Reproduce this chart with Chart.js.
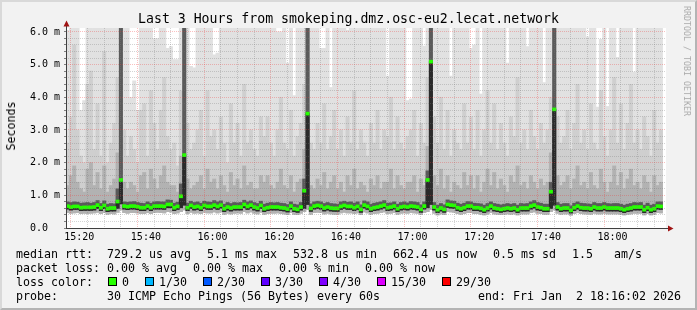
<!DOCTYPE html>
<html><head><meta charset="utf-8">
<script src="https://cdn.jsdelivr.net/npm/chart.js@4.4.1/dist/chart.umd.min.js"></script>
<style>
html,body{margin:0;padding:0;}
body{width:697px;height:310px;overflow:hidden;background:#f2f2f2;position:relative;font-family:"DejaVu Sans Mono",monospace;}
#frame{position:absolute;left:0;top:0;width:697px;height:310px;box-sizing:border-box;border-top:2px solid #d9d9d9;border-left:2px solid #d9d9d9;border-right:2px solid #b4b4b4;border-bottom:2px solid #b4b4b4;}
canvas{position:absolute;left:0;top:0;}
.t{position:absolute;white-space:pre;font-size:11.63px;line-height:14px;color:#000;}
.box{position:absolute;width:9px;height:9px;box-sizing:border-box;border:1px solid #000;}
</style></head>
<body>
<div id="frame"></div>
<canvas id="c" width="697" height="310"></canvas>
<div class="t" style="left:0;top:11px;width:697px;text-align:center;font-size:13.2px;line-height:16px;">Last 3 Hours from smokeping.dmz.osc-eu2.lecat.network</div>
<div class="t" style="left:11px;top:126px;transform:translate(-50%,-50%) rotate(-90deg);">Seconds</div>
<div class="t" style="left:687px;top:61px;transform:translate(-50%,-50%) rotate(90deg);font-size:8.3px;line-height:10px;color:#ababab;">RRDTOOL / TOBI OETIKER</div>
<div id="legend"></div>
<script>
// ---- data (one value per minute, starting 15:16) ----
const startMinute = 16; // minutes after 15:00
const median = [
0.67,0.64,0.66,0.66,0.62,0.63,0.63,0.63,0.64,0.70,
0.62,0.69,0.59,0.61,0.61,0.81,1.47,0.67,0.65,0.67,
0.67,0.65,0.62,0.62,0.67,0.62,0.67,0.67,0.67,0.66,
0.72,0.72,0.62,0.66,0.97,2.23,0.62,0.69,0.64,0.66,
0.62,0.69,0.66,0.66,0.70,0.66,0.70,0.59,0.64,0.61,
0.64,0.64,0.64,0.72,0.66,0.70,0.64,0.61,0.69,0.59,
0.62,0.64,0.64,0.64,0.62,0.61,0.58,0.67,0.59,0.57,
0.64,1.14,3.50,0.60,0.67,0.69,0.67,0.61,0.64,0.61,
0.60,0.60,0.66,0.69,0.66,0.66,0.62,0.66,0.57,0.70,
0.66,0.59,0.62,0.64,0.67,0.70,0.62,0.64,0.67,0.59,
0.64,0.66,0.64,0.67,0.66,0.64,0.57,0.67,1.47,5.09,
0.64,0.56,0.61,0.57,0.72,0.70,0.69,0.62,0.59,0.62,
0.67,0.67,0.62,0.62,0.60,0.56,0.61,0.67,0.61,0.59,
0.57,0.59,0.61,0.59,0.61,0.56,0.61,0.61,0.61,0.67,
0.70,0.64,0.62,0.59,0.59,1.11,3.63,0.64,0.59,0.61,
0.61,0.54,0.62,0.67,0.62,0.61,0.61,0.59,0.64,0.61,
0.61,0.64,0.61,0.61,0.61,0.61,0.59,0.56,0.59,0.61,
0.64,0.64,0.64,0.56,0.62,0.56,0.59,0.67,0.66];
const smokeMax = [
6.05,6.3,6.3,6.3,3.6,3.9,6.3,6.3,6.3,6.3,
6.3,6.3,6.3,6.3,6.3,6.3,6.3,6.3,6.3,4.0,
4.5,3.6,6.3,6.3,6.3,6.3,5.8,5.8,6.3,6.3,
5.5,5.55,5.15,5.15,6.3,6.3,6.3,4.95,4.9,6.3,
6.3,6.3,6.3,6.3,5.3,5.35,6.3,6.3,6.3,6.3,
6.3,6.3,6.3,6.3,6.3,6.3,6.3,6.3,6.3,6.3,
6.3,6.3,6.3,6.0,6.0,6.3,5.05,6.3,4.05,6.3,
6.3,6.3,6.3,6.3,6.3,6.3,5.5,5.5,6.3,4.3,
6.3,6.3,6.3,6.3,6.05,6.3,6.3,6.3,6.3,6.3,
6.3,6.3,6.3,6.3,6.3,6.3,4.65,6.3,6.3,6.3,
6.3,6.3,3.9,3.95,6.3,6.3,6.3,5.57,6.3,6.3,
6.3,6.3,6.3,6.3,6.3,4.65,6.3,6.3,6.3,6.3,
6.3,5.5,5.6,6.3,4.1,6.3,6.3,6.3,6.3,6.3,
6.3,6.3,5.05,6.3,6.3,6.3,6.3,6.3,5.55,6.3,
6.3,6.3,6.3,4.45,6.3,6.3,6.3,6.3,6.3,6.3,
6.3,6.3,6.3,6.3,6.3,6.3,5.85,6.3,6.3,3.7,
5.77,6.3,3.72,6.3,6.3,5.22,6.3,6.3,6.3,6.3,
4.77,6.3,6.3,6.3,6.3,6.3,6.3,6.3,6.3];
const smokeHi = [
2.6,3.4,5.6,3.0,2.2,2.0,4.4,4.8,2.4,3.8,
2.2,5.4,2.0,2.6,3.2,4.6,6.3,3.0,2.2,2.8,
2.4,2.0,3.6,3.8,2.2,4.2,3.2,2.4,3.6,4.6,
2.8,2.4,2.6,1.9,4.2,6.3,3.2,2.4,2.6,3.0,
3.6,2.2,4.2,2.8,3.0,2.4,3.4,2.6,2.0,3.8,
2.6,3.2,2.2,4.4,2.6,3.0,2.4,2.2,3.4,2.8,
3.4,2.6,2.2,3.0,4.0,2.6,2.4,3.6,2.2,2.8,
3.2,4.4,6.3,2.6,2.4,3.2,2.6,3.8,2.4,2.8,
3.6,2.4,3.0,2.2,3.4,2.6,4.2,2.4,3.0,2.6,
2.2,3.2,2.6,3.6,2.4,3.0,2.8,4.0,2.4,3.4,
2.6,2.4,2.8,3.0,3.6,2.2,3.2,2.6,4.6,6.3,
3.4,2.6,4.0,2.4,3.6,2.2,3.0,2.6,2.4,3.8,
2.6,3.4,2.4,3.6,2.2,3.0,4.2,2.6,3.8,2.4,
3.2,2.6,2.2,3.4,2.8,4.6,2.6,3.0,2.4,3.6,
2.8,2.4,3.2,2.6,3.0,4.0,6.3,3.4,2.6,2.8,
3.6,2.4,3.2,4.4,2.6,3.0,2.4,3.8,2.6,2.4,
4.2,2.8,2.2,3.0,4.6,2.6,3.8,2.4,3.2,4.4,
2.6,3.0,2.4,3.4,2.8,2.2,3.6,2.6,3.0];
const smokeMid = [
1.3,1.6,1.9,1.4,1.2,1.1,1.8,2.0,1.3,1.7,
1.2,1.9,1.1,1.3,1.5,2.3,6.3,1.4,1.2,1.4,
1.3,1.1,1.6,1.7,1.2,1.8,1.5,1.2,1.6,1.9,
1.4,1.3,1.3,1.1,2.2,6.3,1.5,1.2,1.3,1.4,
1.6,1.2,1.8,1.4,1.5,1.2,1.6,1.3,1.1,1.7,
1.3,1.5,1.2,1.9,1.3,1.4,1.2,1.2,1.6,1.4,
1.6,1.3,1.2,1.4,1.8,1.3,1.2,1.6,1.1,1.4,
1.5,2.4,6.3,1.3,1.2,1.5,1.3,1.7,1.2,1.4,
1.6,1.2,1.4,1.1,1.6,1.3,1.8,1.2,1.4,1.3,
1.1,1.5,1.3,1.6,1.2,1.4,1.4,1.8,1.2,1.6,
1.3,1.2,1.4,1.4,1.6,1.1,1.5,1.3,2.5,6.3,
1.6,1.3,1.8,1.2,1.6,1.1,1.4,1.3,1.2,1.7,
1.3,1.6,1.2,1.6,1.1,1.4,1.8,1.3,1.7,1.2,
1.5,1.3,1.1,1.6,1.4,1.9,1.3,1.4,1.2,1.6,
1.4,1.2,1.5,1.3,1.4,2.3,6.3,1.6,1.3,1.4,
1.6,1.2,1.5,1.9,1.3,1.4,1.2,1.7,1.3,1.2,
1.8,1.4,1.1,1.4,1.9,1.3,1.7,1.2,1.5,1.8,
1.3,1.4,1.2,1.6,1.4,1.1,1.6,1.3,1.4];
const smokeDark = [
0.80,0.78,0.80,0.79,0.76,0.77,0.78,0.76,0.78,0.84,
0.75,0.83,0.73,0.75,0.74,1.20,6.30,0.80,0.79,0.80,
0.81,0.78,0.76,0.75,0.80,0.76,0.80,0.81,0.80,0.80,
0.86,0.85,0.76,0.79,1.35,6.30,0.76,0.82,0.78,0.80,
0.76,0.82,0.80,0.79,0.84,0.80,0.83,0.73,0.78,0.75,
0.78,0.77,0.78,0.85,0.80,0.83,0.78,0.75,0.82,0.73,
0.76,0.78,0.77,0.78,0.76,0.75,0.72,0.80,0.73,0.71,
0.78,1.50,6.30,0.74,0.80,0.82,0.80,0.75,0.78,0.75,
0.74,0.73,0.80,0.82,0.79,0.80,0.76,0.80,0.71,0.83,
0.80,0.73,0.76,0.78,0.80,0.84,0.76,0.77,0.80,0.73,
0.78,0.80,0.77,0.81,0.80,0.78,0.71,0.80,1.75,6.30,
0.78,0.70,0.75,0.71,0.86,0.83,0.82,0.76,0.73,0.76,
0.81,0.80,0.76,0.75,0.74,0.70,0.75,0.80,0.75,0.73,
0.71,0.73,0.75,0.73,0.75,0.70,0.75,0.74,0.75,0.80,
0.84,0.78,0.76,0.73,0.73,1.40,6.30,0.78,0.73,0.75,
0.75,0.68,0.76,0.80,0.76,0.75,0.74,0.73,0.78,0.75,
0.75,0.78,0.75,0.74,0.75,0.75,0.73,0.70,0.73,0.75,
0.78,0.77,0.78,0.70,0.76,0.70,0.73,0.80,0.80];
const smokeLow = [
0.58,0.55,0.57,0.57,0.53,0.54,0.54,0.54,0.55,0.60,
0.53,0.59,0.50,0.52,0.52,0.60,0.74,0.58,0.56,0.58,
0.58,0.56,0.53,0.53,0.58,0.53,0.58,0.58,0.58,0.57,
0.62,0.62,0.53,0.57,0.62,0.70,0.53,0.60,0.55,0.57,
0.53,0.60,0.57,0.57,0.61,0.57,0.61,0.50,0.55,0.52,
0.55,0.55,0.55,0.62,0.57,0.61,0.55,0.52,0.60,0.50,
0.53,0.55,0.55,0.55,0.53,0.52,0.49,0.58,0.50,0.48,
0.55,0.60,0.72,0.51,0.58,0.60,0.58,0.52,0.55,0.52,
0.51,0.51,0.57,0.60,0.57,0.57,0.53,0.57,0.48,0.61,
0.57,0.50,0.53,0.55,0.58,0.61,0.53,0.55,0.58,0.50,
0.55,0.57,0.55,0.58,0.57,0.55,0.48,0.58,0.62,0.72,
0.55,0.47,0.52,0.48,0.63,0.61,0.60,0.53,0.50,0.53,
0.58,0.58,0.53,0.53,0.51,0.47,0.52,0.58,0.52,0.50,
0.48,0.50,0.52,0.50,0.52,0.47,0.52,0.52,0.52,0.58,
0.61,0.55,0.53,0.50,0.50,0.60,0.70,0.55,0.50,0.52,
0.52,0.46,0.53,0.58,0.53,0.52,0.52,0.50,0.55,0.52,
0.52,0.55,0.52,0.52,0.52,0.52,0.50,0.47,0.50,0.52,
0.55,0.55,0.55,0.47,0.53,0.47,0.50,0.58,0.57];
const smokeMin = [
0.47,0.45,0.46,0.47,0.44,0.45,0.44,0.45,0.46,0.48,
0.44,0.47,0.42,0.44,0.43,0.48,0.55,0.47,0.45,0.47,
0.47,0.46,0.44,0.44,0.47,0.44,0.47,0.48,0.47,0.46,
0.50,0.49,0.44,0.46,0.50,0.55,0.44,0.48,0.45,0.46,
0.44,0.48,0.46,0.46,0.49,0.46,0.49,0.42,0.45,0.43,
0.45,0.46,0.45,0.50,0.46,0.49,0.45,0.43,0.48,0.42,
0.44,0.45,0.45,0.46,0.44,0.43,0.41,0.47,0.42,0.41,
0.45,0.50,0.56,0.42,0.47,0.48,0.47,0.43,0.45,0.43,
0.42,0.42,0.46,0.48,0.46,0.46,0.44,0.46,0.41,0.49,
0.46,0.42,0.44,0.45,0.47,0.49,0.44,0.45,0.47,0.42,
0.45,0.46,0.45,0.47,0.46,0.45,0.41,0.47,0.50,0.56,
0.45,0.40,0.43,0.41,0.50,0.49,0.48,0.44,0.42,0.44,
0.47,0.47,0.44,0.44,0.42,0.40,0.43,0.47,0.43,0.42,
0.41,0.42,0.43,0.42,0.43,0.40,0.43,0.43,0.43,0.47,
0.49,0.45,0.44,0.42,0.42,0.50,0.55,0.45,0.42,0.43,
0.43,0.39,0.44,0.47,0.44,0.43,0.43,0.42,0.45,0.43,
0.43,0.45,0.43,0.43,0.43,0.43,0.42,0.40,0.42,0.43,
0.45,0.45,0.45,0.40,0.44,0.40,0.42,0.47,0.46];
const xTickLabels = ['15:20','15:40','16:00','16:20','16:40','17:00','17:20','17:40','18:00'];
const yTickLabels = ['0.0  ','1.0 m','2.0 m','3.0 m','4.0 m','5.0 m','6.0 m'];
const legendRows = [
  [[16,'median rtt:'],[107,'729.2 us avg'],[207,'5.1 ms max'],[293,'532.8 us min'],[393,'662.4 us now'],[493,'0.5 ms sd'],[572,'1.5   am/s']],
  [[16,'packet loss:'],[107,'0.00 % avg'],[193,'0.00 % max'],[279,'0.00 % min'],[365,'0.00 % now']],
  [[16,'loss color:']],
  [[16,'probe:'],[107,'30 ICMP Echo Pings (56 Bytes) every 60s'],[478,'end: Fri Jan  2 18:16:02 2026']]
];
const lossLabels = ['0','1/30','2/30','3/30','4/30','15/30','29/30'];
const lossColors = ['#26ff00','#00b8ff','#0059ff','#5e00ff','#7e00ff','#dd00ff','#ff0000'];

// ---- legend text ----
const lg = document.getElementById('legend');
const rowTops = [247, 261, 275, 289];
legendRows.forEach((row, r) => row.forEach(([x, s]) => {
  const d = document.createElement('div'); d.className = 't';
  d.style.left = x + 'px'; d.style.top = rowTops[r] + 'px'; d.textContent = s; lg.appendChild(d);
}));
let bx = 108;
lossLabels.forEach((s, i) => {
  const b = document.createElement('div'); b.className = 'box';
  b.style.left = bx + 'px'; b.style.top = '277px'; b.style.background = lossColors[i]; lg.appendChild(b);
  const d = document.createElement('div'); d.className = 't';
  d.style.left = (bx + 14) + 'px'; d.style.top = rowTops[2] + 'px'; d.textContent = s; lg.appendChild(d);
  bx += 30 + 7 * s.length;
});

// ---- chart ----
const xs = median.map((_, i) => startMinute + i + 0.5);
const band = (lo, hi) => lo.map((v, i) => ({x: xs[i], y: [v, hi[i]]}));
const LINE_HALF = 0.046;
const greenBand = median.map((m, i) => ({x: xs[i], y: [m - LINE_HALF, m + LINE_HALF]}));
const barDs = (data, color) => ({type: 'bar', data, backgroundColor: color, borderWidth: 0,
  barPercentage: 1, categoryPercentage: 1, grouped: false, clip: 0});
const xGrid = []; for (let v = 20; v <= 195; v += 5) xGrid.push(v);
const yGrid = []; for (let k = 0; k <= 30; k++) yGrid.push(k / 5);
const isWhole = v => Math.abs(v - Math.round(v)) < 1e-6;
const MAJOR = 'rgba(240,60,60,0.32)', MINOR = 'rgba(120,120,120,0.32)';

const bgPlugin = {id: 'bg', beforeDraw(c) { const a = c.chartArea, x = c.ctx;
  x.save(); x.fillStyle = '#ffffff'; x.fillRect(a.left, a.top, a.right - a.left, a.bottom - a.top); x.restore(); }};
const axesPlugin = {id: 'axes', afterDraw(c) {
  const a = c.chartArea, x = c.ctx; x.save();
  x.strokeStyle = '#404040'; x.lineWidth = 1; x.beginPath();
  x.moveTo(a.left + 0.5, a.bottom + 1); x.lineTo(a.left + 0.5, a.top - 5);
  x.moveTo(a.left, a.bottom + 0.5); x.lineTo(a.right + 5, a.bottom + 0.5); x.stroke();
  x.fillStyle = '#a01414';
  x.beginPath(); x.moveTo(a.left + 0.5 - 3, a.top - 1.5); x.lineTo(a.left + 0.5 + 3, a.top - 1.5); x.lineTo(a.left + 0.5, a.top - 7.5); x.closePath(); x.fill();
  x.beginPath(); x.moveTo(a.right + 2, a.bottom + 0.5 - 3); x.lineTo(a.right + 2, a.bottom + 0.5 + 3); x.lineTo(a.right + 7.5, a.bottom + 0.5); x.closePath(); x.fill();
  x.restore(); }};

new Chart(document.getElementById('c'), {
  type: 'bar',
  data: { datasets: [
    barDs(greenBand, '#26ff00'),
    barDs(band(smokeLow, median), '#2a2a2a'),
    barDs(band(smokeLow, smokeDark), '#5a5a5a'),
    barDs(band(smokeMin, smokeMid), '#b2b2b2'),
    barDs(band(smokeMin, smokeHi), '#cfcfcf'),
    barDs(band(smokeMin, smokeMax), '#e1e1e1')
  ]},
  options: {
    responsive: false, animation: false, devicePixelRatio: 1,
    layout: { padding: { left: 0, top: 28, right: 31, bottom: 60 } },
    plugins: { legend: { display: false }, tooltip: { enabled: false } },
    scales: {
      x: { type: 'linear', min: 16.03, max: 196.03, offset: false,
        afterFit: s => { s.height = 22; },
        afterBuildTicks: s => { s.ticks = xGrid.map(v => ({value: v})); },
        ticks: { autoSkip: false, maxRotation: 0, padding: 3, color: '#000',
          font: { family: 'DejaVu Sans Mono', size: 10 },
          callback: v => (v % 20 === 0) ? xTickLabels[v / 20 - 1] : '' },
        grid: { z: 1, drawTicks: false, lineWidth: 1,
          color: ctx => (ctx.tick && ctx.tick.value % 20 === 0) ? MAJOR : MINOR },
        border: { display: false, dash: [1, 1] } },
      y: { type: 'linear', min: 0, max: 6.12,
        afterFit: s => { s.width = 66; },
        afterBuildTicks: s => { s.ticks = yGrid.map(v => ({value: v})); },
        ticks: { autoSkip: false, padding: 4, color: '#000',
          font: { family: 'DejaVu Sans Mono', size: 10 },
          callback: v => isWhole(v) ? yTickLabels[Math.round(v)] : '' },
        grid: { z: 1, drawTicks: true, tickLength: 2, tickColor: '#808080', lineWidth: 1,
          color: ctx => (ctx.tick && isWhole(ctx.tick.value)) ? MAJOR : MINOR },
        border: { display: false, dash: [1, 1] } }
    }
  },
  plugins: [bgPlugin, axesPlugin]
});
</script>
</body></html>
